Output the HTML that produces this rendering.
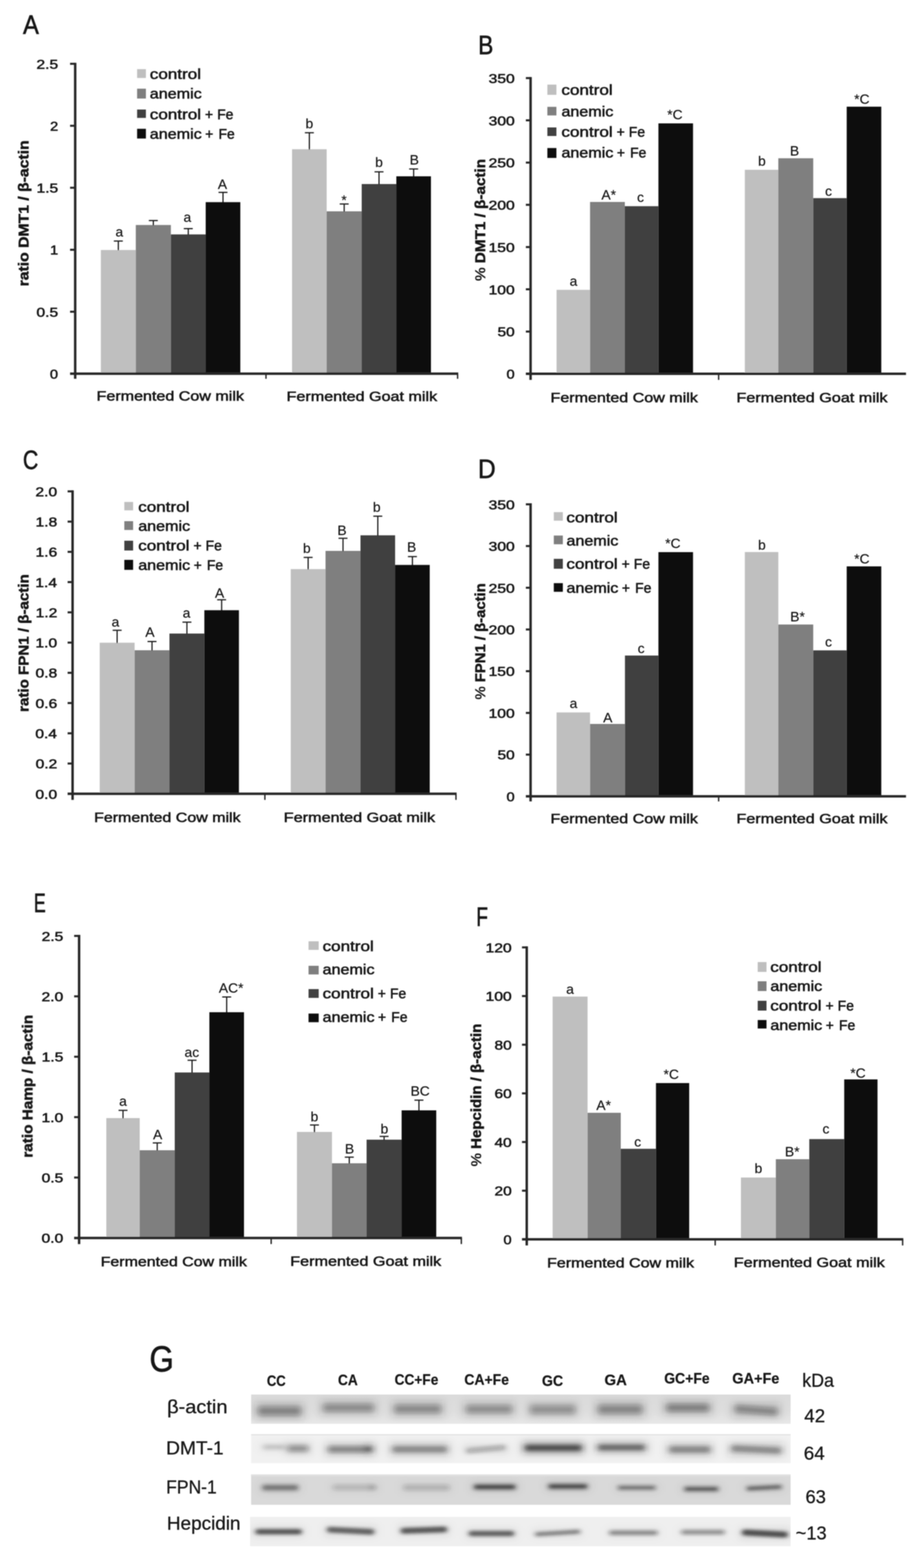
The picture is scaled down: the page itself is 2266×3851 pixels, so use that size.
<!DOCTYPE html>
<html lang="en">
<head>
<meta charset="utf-8">
<title>Figure: DMT1, FPN1 and hepcidin expression</title>
<style>
html,body{margin:0;padding:0;background:#fff;}
body{width:2266px;height:3851px;overflow:hidden;}
svg{display:block;font-family:'Liberation Sans', sans-serif;fill:#141414;}
svg path{fill:none;}
</style>
</head>
<body>
<svg width="2266" height="3851" viewBox="0 0 2266 3851">
<defs>
<filter id="soft" x="-5%" y="-5%" width="110%" height="110%"><feGaussianBlur stdDeviation="0.9"/></filter>
<filter id="bh" x="-5%" y="-100%" width="110%" height="300%"><feGaussianBlur stdDeviation="10 8"/></filter>
<linearGradient id="sg0" x1="0" y1="0" x2="0" y2="1"><stop offset="0" stop-color="#dadada"/><stop offset="0.55" stop-color="#dedede"/><stop offset="1" stop-color="#e7e7e7"/></linearGradient>
<filter id="bc0" x="-5%" y="-150%" width="110%" height="400%"><feGaussianBlur stdDeviation="7 6.5"/></filter>
<filter id="bc1" x="-5%" y="-150%" width="110%" height="400%"><feGaussianBlur stdDeviation="7 5.5"/></filter>
<filter id="bc2" x="-5%" y="-150%" width="110%" height="400%"><feGaussianBlur stdDeviation="6 4.2"/></filter>
<filter id="bc3" x="-5%" y="-150%" width="110%" height="400%"><feGaussianBlur stdDeviation="6 3.8"/></filter>
</defs>
<rect width="2266" height="3851" fill="#fff"/>
<g filter="url(#soft)">
<!-- panel A -->
<g>
<text x="56.6" y="83.4" font-size="64" stroke="#141414" stroke-width="1.3" textLength="38.9" lengthAdjust="spacingAndGlyphs">A</text>
<rect x="247.6" y="614" width="85.8" height="303.8" fill="#bfbfbf"/>
<rect x="333.4" y="552.6" width="86.1" height="365.2" fill="#7f7f7f"/>
<rect x="419.5" y="575.7" width="85.5" height="342.1" fill="#404040"/>
<rect x="505" y="496.5" width="85" height="421.3" fill="#0d0d0d"/>
<path d="M290.5 592L290.5 615" stroke="#141414" stroke-width="2.8"/>
<path d="M279.5 592L301.5 592" stroke="#141414" stroke-width="2.8"/>
<path d="M376.4 541.7L376.4 553.6" stroke="#141414" stroke-width="2.8"/>
<path d="M365.4 541.7L387.4 541.7" stroke="#141414" stroke-width="2.8"/>
<path d="M462.2 561.5L462.2 576.7" stroke="#141414" stroke-width="2.8"/>
<path d="M451.2 561.5L473.2 561.5" stroke="#141414" stroke-width="2.8"/>
<path d="M547.5 472.5L547.5 497.5" stroke="#141414" stroke-width="2.8"/>
<path d="M536.5 472.5L558.5 472.5" stroke="#141414" stroke-width="2.8"/>
<text x="293" y="581" font-size="34" stroke="#141414" stroke-width="0.3" text-anchor="middle">a</text>
<text x="460" y="544.5" font-size="34" stroke="#141414" stroke-width="0.3" text-anchor="middle">a</text>
<text x="546" y="464" font-size="34" stroke="#141414" stroke-width="0.3" text-anchor="middle">A</text>
<rect x="717" y="366.5" width="85" height="551.3" fill="#bfbfbf"/>
<rect x="802" y="519" width="86" height="398.8" fill="#7f7f7f"/>
<rect x="888" y="452" width="85" height="465.8" fill="#404040"/>
<rect x="973" y="433" width="85" height="484.8" fill="#0d0d0d"/>
<path d="M759.5 326L759.5 367.5" stroke="#141414" stroke-width="2.8"/>
<path d="M748.5 326L770.5 326" stroke="#141414" stroke-width="2.8"/>
<path d="M845 501L845 520" stroke="#141414" stroke-width="2.8"/>
<path d="M834 501L856 501" stroke="#141414" stroke-width="2.8"/>
<path d="M930.5 422L930.5 453" stroke="#141414" stroke-width="2.8"/>
<path d="M919.5 422L941.5 422" stroke="#141414" stroke-width="2.8"/>
<path d="M1015.5 415L1015.5 434" stroke="#141414" stroke-width="2.8"/>
<path d="M1004.5 415L1026.5 415" stroke="#141414" stroke-width="2.8"/>
<text x="759.5" y="315" font-size="34" stroke="#141414" stroke-width="0.3" text-anchor="middle">b</text>
<text x="844.5" y="502.5" font-size="34" stroke="#141414" stroke-width="0.3" text-anchor="middle">*</text>
<text x="930.5" y="410" font-size="34" stroke="#141414" stroke-width="0.3" text-anchor="middle">b</text>
<text x="1017" y="404" font-size="34" stroke="#141414" stroke-width="0.3" text-anchor="middle">B</text>
<path d="M184.6 154.2L184.6 930.3" stroke="#262626" stroke-width="6"/>
<path d="M172 917.8L1125 917.8" stroke="#262626" stroke-width="6"/>
<text x="122.5" y="929.8" font-size="31.5" stroke="#141414" stroke-width="1.1" textLength="20" lengthAdjust="spacingAndGlyphs">0</text>
<path d="M172 765.6L184.6 765.6" stroke="#262626" stroke-width="5"/>
<text x="89.6" y="777.6" font-size="31.5" stroke="#141414" stroke-width="1.1" textLength="53.1" lengthAdjust="spacingAndGlyphs">0.5</text>
<path d="M172 613.4L184.6 613.4" stroke="#262626" stroke-width="5"/>
<text x="123.1" y="625.4" font-size="31.5" stroke="#141414" stroke-width="1.1" textLength="19.8" lengthAdjust="spacingAndGlyphs">1</text>
<path d="M172 461.1L184.6 461.1" stroke="#262626" stroke-width="5"/>
<text x="89.7" y="473.1" font-size="31.5" stroke="#141414" stroke-width="1.1" textLength="53.1" lengthAdjust="spacingAndGlyphs">1.5</text>
<path d="M172 308.9L184.6 308.9" stroke="#262626" stroke-width="5"/>
<text x="123" y="320.9" font-size="31.5" stroke="#141414" stroke-width="1.1" textLength="19.9" lengthAdjust="spacingAndGlyphs">2</text>
<path d="M172 156.7L184.6 156.7" stroke="#262626" stroke-width="5"/>
<text x="89.6" y="168.7" font-size="31.5" stroke="#141414" stroke-width="1.1" textLength="53.1" lengthAdjust="spacingAndGlyphs">2.5</text>
<path d="M653 917.8L653 930.3" stroke="#262626" stroke-width="3.4"/>
<path d="M1123.4 917.8L1123.4 930.3" stroke="#262626" stroke-width="3.4"/>
<rect x="336.6" y="169.8" width="21.6" height="21.7" fill="#bfbfbf"/>
<text y="194.1" font-size="34.5" stroke="#141414" stroke-width="1.1" xml:space="preserve"><tspan x="367.7" textLength="125.8" lengthAdjust="spacingAndGlyphs">control</tspan></text>
<rect x="336.6" y="217.8" width="21.6" height="24.2" fill="#7f7f7f"/>
<text y="242" font-size="34.5" stroke="#141414" stroke-width="1.1" xml:space="preserve"><tspan x="367.8" textLength="127.4" lengthAdjust="spacingAndGlyphs">anemic</tspan></text>
<rect x="336.6" y="269" width="21.6" height="20.6" fill="#404040"/>
<text y="292.6" font-size="34.5" stroke="#141414" stroke-width="1.1" xml:space="preserve"><tspan x="367.7" textLength="137.5" lengthAdjust="spacingAndGlyphs">control </tspan><tspan x="503.3" textLength="29.3" lengthAdjust="spacingAndGlyphs">+ </tspan><tspan x="533.2" textLength="39.8" lengthAdjust="spacingAndGlyphs">Fe</tspan></text>
<rect x="336.6" y="316.3" width="21.6" height="23.9" fill="#0d0d0d"/>
<text y="340.6" font-size="34.5" stroke="#141414" stroke-width="1.1" xml:space="preserve"><tspan x="367.8" textLength="138.4" lengthAdjust="spacingAndGlyphs">anemic </tspan><tspan x="503.8" textLength="29.3" lengthAdjust="spacingAndGlyphs">+ </tspan><tspan x="536.4" textLength="39.8" lengthAdjust="spacingAndGlyphs">Fe</tspan></text>
<text x="237.1" y="984" font-size="33.5" stroke="#141414" stroke-width="1.1" textLength="361.8" lengthAdjust="spacingAndGlyphs">Fermented Cow milk</text>
<text x="703.6" y="984.6" font-size="33.5" stroke="#141414" stroke-width="1.1" textLength="369.6" lengthAdjust="spacingAndGlyphs">Fermented Goat milk</text>
<text transform="translate(69.8 703.3) rotate(-90)" font-size="35.5" stroke="#141414" stroke-width="1" textLength="358.6" lengthAdjust="spacingAndGlyphs" xml:space="preserve"><tspan font-weight="bold">ratio DMT1 / β-actin</tspan></text>
</g>
<!-- panel B -->
<g>
<text x="1173.9" y="133.4" font-size="64" stroke="#141414" stroke-width="1.3" textLength="37.1" lengthAdjust="spacingAndGlyphs">B</text>
<rect x="1366.4" y="711.8" width="82.2" height="206.2" fill="#bfbfbf"/>
<rect x="1448.6" y="496" width="85.4" height="422" fill="#7f7f7f"/>
<rect x="1534" y="506.4" width="82.5" height="411.6" fill="#404040"/>
<rect x="1616.5" y="303" width="84.9" height="615" fill="#0d0d0d"/>
<text x="1408" y="701.7" font-size="34" stroke="#141414" stroke-width="0.3" text-anchor="middle">a</text>
<text x="1494.5" y="490" font-size="34" stroke="#141414" stroke-width="0.3" text-anchor="middle">A*</text>
<text x="1572.5" y="496" font-size="34" stroke="#141414" stroke-width="0.3" text-anchor="middle">c</text>
<text x="1657" y="292.7" font-size="34" stroke="#141414" stroke-width="0.3" text-anchor="middle">*C</text>
<rect x="1828.6" y="417" width="82.2" height="501" fill="#bfbfbf"/>
<rect x="1910.8" y="388.7" width="85.7" height="529.3" fill="#7f7f7f"/>
<rect x="1996.5" y="486.6" width="82.2" height="431.4" fill="#404040"/>
<rect x="2078.7" y="262" width="84.9" height="656" fill="#0d0d0d"/>
<text x="1870.5" y="407" font-size="34" stroke="#141414" stroke-width="0.3" text-anchor="middle">b</text>
<text x="1950.5" y="382" font-size="34" stroke="#141414" stroke-width="0.3" text-anchor="middle">B</text>
<text x="2034" y="481" font-size="34" stroke="#141414" stroke-width="0.3" text-anchor="middle">c</text>
<text x="2116" y="255" font-size="34" stroke="#141414" stroke-width="0.3" text-anchor="middle">*C</text>
<path d="M1302.6 189.3L1302.6 933" stroke="#262626" stroke-width="6"/>
<path d="M1291 918L2224.3 918" stroke="#262626" stroke-width="6"/>
<text x="1243.5" y="930" font-size="31.5" stroke="#141414" stroke-width="1.1" textLength="20" lengthAdjust="spacingAndGlyphs">0</text>
<path d="M1291 814.3L1302.6 814.3" stroke="#262626" stroke-width="5"/>
<text x="1221.5" y="826.3" font-size="31.5" stroke="#141414" stroke-width="1.1" textLength="42.1" lengthAdjust="spacingAndGlyphs">50</text>
<path d="M1291 710.5L1302.6 710.5" stroke="#262626" stroke-width="5"/>
<text x="1199.5" y="722.5" font-size="31.5" stroke="#141414" stroke-width="1.1" textLength="64.1" lengthAdjust="spacingAndGlyphs">100</text>
<path d="M1291 606.8L1302.6 606.8" stroke="#262626" stroke-width="5"/>
<text x="1199.5" y="618.8" font-size="31.5" stroke="#141414" stroke-width="1.1" textLength="64.1" lengthAdjust="spacingAndGlyphs">150</text>
<path d="M1291 503L1302.6 503" stroke="#262626" stroke-width="5"/>
<text x="1199.5" y="515" font-size="31.5" stroke="#141414" stroke-width="1.1" textLength="64.2" lengthAdjust="spacingAndGlyphs">200</text>
<path d="M1291 399.3L1302.6 399.3" stroke="#262626" stroke-width="5"/>
<text x="1199.5" y="411.3" font-size="31.5" stroke="#141414" stroke-width="1.1" textLength="64.2" lengthAdjust="spacingAndGlyphs">250</text>
<path d="M1291 295.5L1302.6 295.5" stroke="#262626" stroke-width="5"/>
<text x="1199.5" y="307.5" font-size="31.5" stroke="#141414" stroke-width="1.1" textLength="64.2" lengthAdjust="spacingAndGlyphs">300</text>
<path d="M1291 191.8L1302.6 191.8" stroke="#262626" stroke-width="5"/>
<text x="1199.5" y="203.8" font-size="31.5" stroke="#141414" stroke-width="1.1" textLength="64.2" lengthAdjust="spacingAndGlyphs">350</text>
<path d="M1764.3 918L1764.3 933" stroke="#262626" stroke-width="3.4"/>
<rect x="1343.8" y="207.8" width="22.2" height="25.1" fill="#bfbfbf"/>
<text y="232.9" font-size="34.5" stroke="#141414" stroke-width="1.1" xml:space="preserve"><tspan x="1378.3" textLength="125.8" lengthAdjust="spacingAndGlyphs">control</tspan></text>
<rect x="1343.8" y="262.4" width="22.2" height="21.1" fill="#7f7f7f"/>
<text y="286" font-size="34.5" stroke="#141414" stroke-width="1.1" xml:space="preserve"><tspan x="1378.4" textLength="127.4" lengthAdjust="spacingAndGlyphs">anemic</tspan></text>
<rect x="1343.8" y="313" width="22.2" height="21" fill="#404040"/>
<text y="336" font-size="34.5" stroke="#141414" stroke-width="1.1" xml:space="preserve"><tspan x="1378.3" textLength="137.5" lengthAdjust="spacingAndGlyphs">control </tspan><tspan x="1513.9" textLength="29.3" lengthAdjust="spacingAndGlyphs">+ </tspan><tspan x="1543.8" textLength="39.8" lengthAdjust="spacingAndGlyphs">Fe</tspan></text>
<rect x="1343.8" y="363.6" width="22.2" height="24.3" fill="#0d0d0d"/>
<text y="387.2" font-size="34.5" stroke="#141414" stroke-width="1.1" xml:space="preserve"><tspan x="1378.4" textLength="138.4" lengthAdjust="spacingAndGlyphs">anemic </tspan><tspan x="1514.4" textLength="29.3" lengthAdjust="spacingAndGlyphs">+ </tspan><tspan x="1547" textLength="39.8" lengthAdjust="spacingAndGlyphs">Fe</tspan></text>
<text x="1351.6" y="988" font-size="33.5" stroke="#141414" stroke-width="1.1" textLength="361.6" lengthAdjust="spacingAndGlyphs">Fermented Cow milk</text>
<text x="1808" y="988" font-size="33.5" stroke="#141414" stroke-width="1.1" textLength="371" lengthAdjust="spacingAndGlyphs">Fermented Goat milk</text>
<text transform="translate(1190.6 690.1) rotate(-90)" font-size="35.5" stroke="#141414" stroke-width="1" textLength="299.7" lengthAdjust="spacingAndGlyphs" xml:space="preserve"><tspan font-weight="normal">% </tspan><tspan font-weight="bold">DMT1 / β-actin</tspan></text>
</g>
<!-- panel C -->
<g>
<text x="56.2" y="1151.5" font-size="64" stroke="#141414" stroke-width="1.3" textLength="37.8" lengthAdjust="spacingAndGlyphs">C</text>
<rect x="244.8" y="1578.5" width="85.7" height="371" fill="#bfbfbf"/>
<rect x="330.5" y="1597" width="85.5" height="352.5" fill="#7f7f7f"/>
<rect x="416" y="1556" width="85.7" height="393.5" fill="#404040"/>
<rect x="501.7" y="1498.7" width="84.9" height="450.8" fill="#0d0d0d"/>
<path d="M287.6 1548L287.6 1579.5" stroke="#141414" stroke-width="2.8"/>
<path d="M276.6 1548L298.6 1548" stroke="#141414" stroke-width="2.8"/>
<path d="M373.2 1575.6L373.2 1598" stroke="#141414" stroke-width="2.8"/>
<path d="M362.2 1575.6L384.2 1575.6" stroke="#141414" stroke-width="2.8"/>
<path d="M458.9 1528L458.9 1557" stroke="#141414" stroke-width="2.8"/>
<path d="M447.9 1528L469.9 1528" stroke="#141414" stroke-width="2.8"/>
<path d="M544.1 1473L544.1 1499.7" stroke="#141414" stroke-width="2.8"/>
<path d="M533.1 1473L555.1 1473" stroke="#141414" stroke-width="2.8"/>
<text x="283.5" y="1539" font-size="34" stroke="#141414" stroke-width="0.3" text-anchor="middle">a</text>
<text x="368" y="1564" font-size="34" stroke="#141414" stroke-width="0.3" text-anchor="middle">A</text>
<text x="458" y="1517" font-size="34" stroke="#141414" stroke-width="0.3" text-anchor="middle">a</text>
<text x="539" y="1468" font-size="34" stroke="#141414" stroke-width="0.3" text-anchor="middle">A</text>
<rect x="713.8" y="1397.7" width="85.4" height="551.8" fill="#bfbfbf"/>
<rect x="799.2" y="1353" width="85.8" height="596.5" fill="#7f7f7f"/>
<rect x="885" y="1314.7" width="85" height="634.8" fill="#404040"/>
<rect x="970" y="1387.5" width="85" height="562" fill="#0d0d0d"/>
<path d="M756.5 1369L756.5 1398.7" stroke="#141414" stroke-width="2.8"/>
<path d="M745.5 1369L767.5 1369" stroke="#141414" stroke-width="2.8"/>
<path d="M842.1 1322L842.1 1354" stroke="#141414" stroke-width="2.8"/>
<path d="M831.1 1322L853.1 1322" stroke="#141414" stroke-width="2.8"/>
<path d="M927.5 1267.8L927.5 1315.7" stroke="#141414" stroke-width="2.8"/>
<path d="M916.5 1267.8L938.5 1267.8" stroke="#141414" stroke-width="2.8"/>
<path d="M1012.5 1367L1012.5 1388.5" stroke="#141414" stroke-width="2.8"/>
<path d="M1001.5 1367L1023.5 1367" stroke="#141414" stroke-width="2.8"/>
<text x="753.3" y="1358" font-size="34" stroke="#141414" stroke-width="0.3" text-anchor="middle">b</text>
<text x="839.5" y="1313.5" font-size="34" stroke="#141414" stroke-width="0.3" text-anchor="middle">B</text>
<text x="925" y="1257" font-size="34" stroke="#141414" stroke-width="0.3" text-anchor="middle">b</text>
<text x="1010.5" y="1354.8" font-size="34" stroke="#141414" stroke-width="0.3" text-anchor="middle">B</text>
<path d="M178.2 1204.3L178.2 1964.5" stroke="#262626" stroke-width="6"/>
<path d="M166 1949.5L1121 1949.5" stroke="#262626" stroke-width="6"/>
<text x="87.1" y="1961.5" font-size="31.5" stroke="#141414" stroke-width="1.1" textLength="53.2" lengthAdjust="spacingAndGlyphs">0.0</text>
<path d="M166 1875.2L178.2 1875.2" stroke="#262626" stroke-width="5"/>
<text x="87.5" y="1887.2" font-size="31.5" stroke="#141414" stroke-width="1.1" textLength="53.1" lengthAdjust="spacingAndGlyphs">0.2</text>
<path d="M166 1801L178.2 1801" stroke="#262626" stroke-width="5"/>
<text x="86.7" y="1813" font-size="31.5" stroke="#141414" stroke-width="1.1" textLength="53.2" lengthAdjust="spacingAndGlyphs">0.4</text>
<path d="M166 1726.7L178.2 1726.7" stroke="#262626" stroke-width="5"/>
<text x="87.3" y="1738.7" font-size="31.5" stroke="#141414" stroke-width="1.1" textLength="53.1" lengthAdjust="spacingAndGlyphs">0.6</text>
<path d="M166 1652.4L178.2 1652.4" stroke="#262626" stroke-width="5"/>
<text x="87.3" y="1664.4" font-size="31.5" stroke="#141414" stroke-width="1.1" textLength="53.1" lengthAdjust="spacingAndGlyphs">0.8</text>
<path d="M166 1578.2L178.2 1578.2" stroke="#262626" stroke-width="5"/>
<text x="87.1" y="1590.2" font-size="31.5" stroke="#141414" stroke-width="1.1" textLength="53.1" lengthAdjust="spacingAndGlyphs">1.0</text>
<path d="M166 1503.9L178.2 1503.9" stroke="#262626" stroke-width="5"/>
<text x="87.6" y="1515.9" font-size="31.5" stroke="#141414" stroke-width="1.1" textLength="53.1" lengthAdjust="spacingAndGlyphs">1.2</text>
<path d="M166 1429.6L178.2 1429.6" stroke="#262626" stroke-width="5"/>
<text x="86.8" y="1441.6" font-size="31.5" stroke="#141414" stroke-width="1.1" textLength="53.1" lengthAdjust="spacingAndGlyphs">1.4</text>
<path d="M166 1355.3L178.2 1355.3" stroke="#262626" stroke-width="5"/>
<text x="87.3" y="1367.3" font-size="31.5" stroke="#141414" stroke-width="1.1" textLength="53.1" lengthAdjust="spacingAndGlyphs">1.6</text>
<path d="M166 1281.1L178.2 1281.1" stroke="#262626" stroke-width="5"/>
<text x="87.3" y="1293.1" font-size="31.5" stroke="#141414" stroke-width="1.1" textLength="53.1" lengthAdjust="spacingAndGlyphs">1.8</text>
<path d="M166 1206.8L178.2 1206.8" stroke="#262626" stroke-width="5"/>
<text x="87.1" y="1218.8" font-size="31.5" stroke="#141414" stroke-width="1.1" textLength="53.1" lengthAdjust="spacingAndGlyphs">2.0</text>
<path d="M650.3 1949.5L650.3 1964.5" stroke="#262626" stroke-width="3.4"/>
<path d="M1119.4 1949.5L1119.4 1964.5" stroke="#262626" stroke-width="3.4"/>
<rect x="305.2" y="1232.8" width="21.6" height="20.6" fill="#bfbfbf"/>
<text y="1257" font-size="34.5" stroke="#141414" stroke-width="1.1" xml:space="preserve"><tspan x="339.3" textLength="125.8" lengthAdjust="spacingAndGlyphs">control</tspan></text>
<rect x="305.2" y="1280" width="21.6" height="21.6" fill="#7f7f7f"/>
<text y="1304" font-size="34.5" stroke="#141414" stroke-width="1.1" xml:space="preserve"><tspan x="339.4" textLength="127.4" lengthAdjust="spacingAndGlyphs">anemic</tspan></text>
<rect x="305.2" y="1328" width="21.6" height="24" fill="#404040"/>
<text y="1352" font-size="34.5" stroke="#141414" stroke-width="1.1" xml:space="preserve"><tspan x="339.3" textLength="137.5" lengthAdjust="spacingAndGlyphs">control </tspan><tspan x="474.9" textLength="29.3" lengthAdjust="spacingAndGlyphs">+ </tspan><tspan x="504.8" textLength="39.8" lengthAdjust="spacingAndGlyphs">Fe</tspan></text>
<rect x="305.2" y="1375" width="21.6" height="24.5" fill="#0d0d0d"/>
<text y="1399.5" font-size="34.5" stroke="#141414" stroke-width="1.1" xml:space="preserve"><tspan x="339.4" textLength="138.4" lengthAdjust="spacingAndGlyphs">anemic </tspan><tspan x="475.4" textLength="29.3" lengthAdjust="spacingAndGlyphs">+ </tspan><tspan x="508" textLength="39.8" lengthAdjust="spacingAndGlyphs">Fe</tspan></text>
<text x="231" y="2019" font-size="33.5" stroke="#141414" stroke-width="1.1" textLength="359.7" lengthAdjust="spacingAndGlyphs">Fermented Cow milk</text>
<text x="696.6" y="2019" font-size="33.5" stroke="#141414" stroke-width="1.1" textLength="371.6" lengthAdjust="spacingAndGlyphs">Fermented Goat milk</text>
<text transform="translate(69.9 1748.4) rotate(-90)" font-size="35.5" stroke="#141414" stroke-width="1" textLength="338.1" lengthAdjust="spacingAndGlyphs" xml:space="preserve"><tspan font-weight="bold">ratio FPN1 / β-actin</tspan></text>
</g>
<!-- panel D -->
<g>
<text x="1173.5" y="1174" font-size="64" stroke="#141414" stroke-width="1.3" textLength="43.4" lengthAdjust="spacingAndGlyphs">D</text>
<rect x="1366.4" y="1749.7" width="82.2" height="206.1" fill="#bfbfbf"/>
<rect x="1448.6" y="1778" width="85.7" height="177.8" fill="#7f7f7f"/>
<rect x="1534.3" y="1610" width="82.2" height="345.8" fill="#404040"/>
<rect x="1616.5" y="1356" width="84.9" height="599.8" fill="#0d0d0d"/>
<text x="1408" y="1738.8" font-size="34" stroke="#141414" stroke-width="0.3" text-anchor="middle">a</text>
<text x="1492" y="1774" font-size="34" stroke="#141414" stroke-width="0.3" text-anchor="middle">A</text>
<text x="1574" y="1604" font-size="34" stroke="#141414" stroke-width="0.3" text-anchor="middle">c</text>
<text x="1652" y="1345.6" font-size="34" stroke="#141414" stroke-width="0.3" text-anchor="middle">*C</text>
<rect x="1828.6" y="1355.8" width="82.2" height="600" fill="#bfbfbf"/>
<rect x="1910.8" y="1533.8" width="85.7" height="422" fill="#7f7f7f"/>
<rect x="1996.5" y="1597.3" width="82.2" height="358.5" fill="#404040"/>
<rect x="2078.7" y="1391" width="84.9" height="564.8" fill="#0d0d0d"/>
<text x="1870.5" y="1349.7" font-size="34" stroke="#141414" stroke-width="0.3" text-anchor="middle">b</text>
<text x="1958" y="1525.7" font-size="34" stroke="#141414" stroke-width="0.3" text-anchor="middle">B*</text>
<text x="2034" y="1587.6" font-size="34" stroke="#141414" stroke-width="0.3" text-anchor="middle">c</text>
<text x="2116" y="1384" font-size="34" stroke="#141414" stroke-width="0.3" text-anchor="middle">*C</text>
<path d="M1302.6 1236.1L1302.6 1968.3" stroke="#262626" stroke-width="6"/>
<path d="M1291 1955.8L2224.3 1955.8" stroke="#262626" stroke-width="6"/>
<text x="1243.5" y="1967.8" font-size="31.5" stroke="#141414" stroke-width="1.1" textLength="20" lengthAdjust="spacingAndGlyphs">0</text>
<path d="M1291 1853.3L1302.6 1853.3" stroke="#262626" stroke-width="5"/>
<text x="1221.5" y="1865.3" font-size="31.5" stroke="#141414" stroke-width="1.1" textLength="42.1" lengthAdjust="spacingAndGlyphs">50</text>
<path d="M1291 1750.9L1302.6 1750.9" stroke="#262626" stroke-width="5"/>
<text x="1199.5" y="1762.9" font-size="31.5" stroke="#141414" stroke-width="1.1" textLength="64.1" lengthAdjust="spacingAndGlyphs">100</text>
<path d="M1291 1648.4L1302.6 1648.4" stroke="#262626" stroke-width="5"/>
<text x="1199.5" y="1660.4" font-size="31.5" stroke="#141414" stroke-width="1.1" textLength="64.1" lengthAdjust="spacingAndGlyphs">150</text>
<path d="M1291 1546L1302.6 1546" stroke="#262626" stroke-width="5"/>
<text x="1199.5" y="1558" font-size="31.5" stroke="#141414" stroke-width="1.1" textLength="64.2" lengthAdjust="spacingAndGlyphs">200</text>
<path d="M1291 1443.5L1302.6 1443.5" stroke="#262626" stroke-width="5"/>
<text x="1199.5" y="1455.5" font-size="31.5" stroke="#141414" stroke-width="1.1" textLength="64.2" lengthAdjust="spacingAndGlyphs">250</text>
<path d="M1291 1341.1L1302.6 1341.1" stroke="#262626" stroke-width="5"/>
<text x="1199.5" y="1353.1" font-size="31.5" stroke="#141414" stroke-width="1.1" textLength="64.2" lengthAdjust="spacingAndGlyphs">300</text>
<path d="M1291 1238.6L1302.6 1238.6" stroke="#262626" stroke-width="5"/>
<text x="1199.5" y="1250.6" font-size="31.5" stroke="#141414" stroke-width="1.1" textLength="64.2" lengthAdjust="spacingAndGlyphs">350</text>
<path d="M1764.3 1955.8L1764.3 1968.3" stroke="#262626" stroke-width="3.4"/>
<rect x="1359.6" y="1257.8" width="22.2" height="21" fill="#bfbfbf"/>
<text y="1282.5" font-size="34.5" stroke="#141414" stroke-width="1.1" xml:space="preserve"><tspan x="1390.6" textLength="125.8" lengthAdjust="spacingAndGlyphs">control</tspan></text>
<rect x="1359.6" y="1315.3" width="22.2" height="21.4" fill="#7f7f7f"/>
<text y="1339.5" font-size="34.5" stroke="#141414" stroke-width="1.1" xml:space="preserve"><tspan x="1390.7" textLength="127.4" lengthAdjust="spacingAndGlyphs">anemic</tspan></text>
<rect x="1359.6" y="1372.5" width="22.2" height="24.3" fill="#404040"/>
<text y="1396.8" font-size="34.5" stroke="#141414" stroke-width="1.1" xml:space="preserve"><tspan x="1390.6" textLength="137.5" lengthAdjust="spacingAndGlyphs">control </tspan><tspan x="1526.2" textLength="29.3" lengthAdjust="spacingAndGlyphs">+ </tspan><tspan x="1556.1" textLength="39.8" lengthAdjust="spacingAndGlyphs">Fe</tspan></text>
<rect x="1359.6" y="1432.2" width="22.2" height="21.2" fill="#0d0d0d"/>
<text y="1455.5" font-size="34.5" stroke="#141414" stroke-width="1.1" xml:space="preserve"><tspan x="1390.7" textLength="138.4" lengthAdjust="spacingAndGlyphs">anemic </tspan><tspan x="1526.7" textLength="29.3" lengthAdjust="spacingAndGlyphs">+ </tspan><tspan x="1559.3" textLength="39.8" lengthAdjust="spacingAndGlyphs">Fe</tspan></text>
<text x="1351.6" y="2022" font-size="33.5" stroke="#141414" stroke-width="1.1" textLength="361.6" lengthAdjust="spacingAndGlyphs">Fermented Cow milk</text>
<text x="1808" y="2021.6" font-size="33.5" stroke="#141414" stroke-width="1.1" textLength="371" lengthAdjust="spacingAndGlyphs">Fermented Goat milk</text>
<text transform="translate(1190.6 1718) rotate(-90)" font-size="35.5" stroke="#141414" stroke-width="1" textLength="285.5" lengthAdjust="spacingAndGlyphs" xml:space="preserve"><tspan font-weight="normal">% </tspan><tspan font-weight="bold">FPN1 / β-actin</tspan></text>
</g>
<!-- panel E -->
<g>
<text x="83.2" y="2240.2" font-size="64" stroke="#141414" stroke-width="1.3" textLength="29" lengthAdjust="spacingAndGlyphs">E</text>
<rect x="261" y="2746" width="82" height="294.4" fill="#bfbfbf"/>
<rect x="343" y="2825" width="86" height="215.4" fill="#7f7f7f"/>
<rect x="429" y="2634" width="85" height="406.4" fill="#404040"/>
<rect x="514" y="2486" width="85" height="554.4" fill="#0d0d0d"/>
<path d="M302 2727L302 2747" stroke="#141414" stroke-width="2.8"/>
<path d="M291 2727L313 2727" stroke="#141414" stroke-width="2.8"/>
<path d="M386 2807L386 2826" stroke="#141414" stroke-width="2.8"/>
<path d="M375 2807L397 2807" stroke="#141414" stroke-width="2.8"/>
<path d="M471.5 2604L471.5 2635" stroke="#141414" stroke-width="2.8"/>
<path d="M460.5 2604L482.5 2604" stroke="#141414" stroke-width="2.8"/>
<path d="M556.5 2448.6L556.5 2487" stroke="#141414" stroke-width="2.8"/>
<path d="M545.5 2448.6L567.5 2448.6" stroke="#141414" stroke-width="2.8"/>
<text x="302" y="2716" font-size="34" stroke="#141414" stroke-width="0.3" text-anchor="middle">a</text>
<text x="387" y="2797.7" font-size="34" stroke="#141414" stroke-width="0.3" text-anchor="middle">A</text>
<text x="471" y="2596" font-size="34" stroke="#141414" stroke-width="0.3" text-anchor="middle">ac</text>
<text x="567.5" y="2438" font-size="34" stroke="#141414" stroke-width="0.3" text-anchor="middle">AC*</text>
<rect x="729" y="2780" width="86" height="260.4" fill="#bfbfbf"/>
<rect x="815" y="2857" width="85" height="183.4" fill="#7f7f7f"/>
<rect x="900" y="2799" width="86" height="241.4" fill="#404040"/>
<rect x="986" y="2727" width="85" height="313.4" fill="#0d0d0d"/>
<path d="M772 2763L772 2781" stroke="#141414" stroke-width="2.8"/>
<path d="M761 2763L783 2763" stroke="#141414" stroke-width="2.8"/>
<path d="M857.5 2842L857.5 2858" stroke="#141414" stroke-width="2.8"/>
<path d="M846.5 2842L868.5 2842" stroke="#141414" stroke-width="2.8"/>
<path d="M943 2791L943 2800" stroke="#141414" stroke-width="2.8"/>
<path d="M932 2791L954 2791" stroke="#141414" stroke-width="2.8"/>
<path d="M1028.5 2702L1028.5 2728" stroke="#141414" stroke-width="2.8"/>
<path d="M1017.5 2702L1039.5 2702" stroke="#141414" stroke-width="2.8"/>
<text x="772" y="2754" font-size="34" stroke="#141414" stroke-width="0.3" text-anchor="middle">b</text>
<text x="858" y="2833" font-size="34" stroke="#141414" stroke-width="0.3" text-anchor="middle">B</text>
<text x="943.6" y="2784.4" font-size="34" stroke="#141414" stroke-width="0.3" text-anchor="middle">b</text>
<text x="1031.5" y="2691" font-size="34" stroke="#141414" stroke-width="0.3" text-anchor="middle">BC</text>
<path d="M194.2 2296.1L194.2 3055.4" stroke="#262626" stroke-width="6"/>
<path d="M182 3040.4L1134.2 3040.4" stroke="#262626" stroke-width="6"/>
<text x="102.1" y="3052.4" font-size="31.5" stroke="#141414" stroke-width="1.1" textLength="53.2" lengthAdjust="spacingAndGlyphs">0.0</text>
<path d="M182 2892L194.2 2892" stroke="#262626" stroke-width="5"/>
<text x="102.2" y="2904" font-size="31.5" stroke="#141414" stroke-width="1.1" textLength="53.1" lengthAdjust="spacingAndGlyphs">0.5</text>
<path d="M182 2743.7L194.2 2743.7" stroke="#262626" stroke-width="5"/>
<text x="102.1" y="2755.7" font-size="31.5" stroke="#141414" stroke-width="1.1" textLength="53.1" lengthAdjust="spacingAndGlyphs">1.0</text>
<path d="M182 2595.3L194.2 2595.3" stroke="#262626" stroke-width="5"/>
<text x="102.3" y="2607.3" font-size="31.5" stroke="#141414" stroke-width="1.1" textLength="53.1" lengthAdjust="spacingAndGlyphs">1.5</text>
<path d="M182 2447L194.2 2447" stroke="#262626" stroke-width="5"/>
<text x="102.1" y="2459" font-size="31.5" stroke="#141414" stroke-width="1.1" textLength="53.1" lengthAdjust="spacingAndGlyphs">2.0</text>
<path d="M182 2298.6L194.2 2298.6" stroke="#262626" stroke-width="5"/>
<text x="102.2" y="2310.6" font-size="31.5" stroke="#141414" stroke-width="1.1" textLength="53.1" lengthAdjust="spacingAndGlyphs">2.5</text>
<path d="M665.7 3040.4L665.7 3055.4" stroke="#262626" stroke-width="3.4"/>
<path d="M1132.6 3040.4L1132.6 3055.4" stroke="#262626" stroke-width="3.4"/>
<rect x="757.5" y="2311.8" width="24.9" height="21.1" fill="#bfbfbf"/>
<text y="2335.5" font-size="34.5" stroke="#141414" stroke-width="1.1" xml:space="preserve"><tspan x="791.9" textLength="125.8" lengthAdjust="spacingAndGlyphs">control</tspan></text>
<rect x="757.5" y="2372" width="24.9" height="21.2" fill="#7f7f7f"/>
<text y="2392.8" font-size="34.5" stroke="#141414" stroke-width="1.1" xml:space="preserve"><tspan x="792" textLength="127.4" lengthAdjust="spacingAndGlyphs">anemic</tspan></text>
<rect x="757.5" y="2429.2" width="24.9" height="21.6" fill="#404040"/>
<text y="2452.2" font-size="34.5" stroke="#141414" stroke-width="1.1" xml:space="preserve"><tspan x="791.9" textLength="137.5" lengthAdjust="spacingAndGlyphs">control </tspan><tspan x="927.5" textLength="29.3" lengthAdjust="spacingAndGlyphs">+ </tspan><tspan x="957.4" textLength="39.8" lengthAdjust="spacingAndGlyphs">Fe</tspan></text>
<rect x="757.5" y="2489.3" width="24.9" height="21.2" fill="#0d0d0d"/>
<text y="2509.5" font-size="34.5" stroke="#141414" stroke-width="1.1" xml:space="preserve"><tspan x="792" textLength="138.4" lengthAdjust="spacingAndGlyphs">anemic </tspan><tspan x="928" textLength="29.3" lengthAdjust="spacingAndGlyphs">+ </tspan><tspan x="960.6" textLength="39.8" lengthAdjust="spacingAndGlyphs">Fe</tspan></text>
<text x="247.2" y="3110" font-size="33.5" stroke="#141414" stroke-width="1.1" textLength="358.9" lengthAdjust="spacingAndGlyphs">Fermented Cow milk</text>
<text x="712.6" y="3109" font-size="33.5" stroke="#141414" stroke-width="1.1" textLength="370.6" lengthAdjust="spacingAndGlyphs">Fermented Goat milk</text>
<text transform="translate(79.7 2843.2) rotate(-90)" font-size="35.5" stroke="#141414" stroke-width="1" textLength="350.7" lengthAdjust="spacingAndGlyphs" xml:space="preserve"><tspan font-weight="bold">ratio Hamp / β-actin</tspan></text>
</g>
<!-- panel F -->
<g>
<text x="1169.3" y="2274" font-size="64" stroke="#141414" stroke-width="1.3" textLength="28.7" lengthAdjust="spacingAndGlyphs">F</text>
<rect x="1356.7" y="2447.6" width="85.8" height="596.2" fill="#bfbfbf"/>
<rect x="1442.5" y="2733" width="81.5" height="310.8" fill="#7f7f7f"/>
<rect x="1524" y="2821.4" width="86.4" height="222.4" fill="#404040"/>
<rect x="1610.4" y="2660" width="81.6" height="383.8" fill="#0d0d0d"/>
<text x="1399.5" y="2440.7" font-size="34" stroke="#141414" stroke-width="0.3" text-anchor="middle">a</text>
<text x="1482" y="2726" font-size="34" stroke="#141414" stroke-width="0.3" text-anchor="middle">A*</text>
<text x="1565.5" y="2816" font-size="34" stroke="#141414" stroke-width="0.3" text-anchor="middle">c</text>
<text x="1648" y="2650" font-size="34" stroke="#141414" stroke-width="0.3" text-anchor="middle">*C</text>
<rect x="1819" y="2892" width="85.7" height="151.8" fill="#bfbfbf"/>
<rect x="1904.7" y="2847" width="82.1" height="196.8" fill="#7f7f7f"/>
<rect x="1986.8" y="2797.6" width="85.8" height="246.2" fill="#404040"/>
<rect x="2072.6" y="2651" width="81.7" height="392.8" fill="#0d0d0d"/>
<text x="1862" y="2881" font-size="34" stroke="#141414" stroke-width="0.3" text-anchor="middle">b</text>
<text x="1945" y="2839.6" font-size="34" stroke="#141414" stroke-width="0.3" text-anchor="middle">B*</text>
<text x="2027.7" y="2784" font-size="34" stroke="#141414" stroke-width="0.3" text-anchor="middle">c</text>
<text x="2106.4" y="2647" font-size="34" stroke="#141414" stroke-width="0.3" text-anchor="middle">*C</text>
<path d="M1293.2 2324.3L1293.2 3058.8" stroke="#262626" stroke-width="6"/>
<path d="M1281.5 3043.8L2217.6 3043.8" stroke="#262626" stroke-width="6"/>
<text x="1236.1" y="3055.8" font-size="31.5" stroke="#141414" stroke-width="1.1" textLength="20" lengthAdjust="spacingAndGlyphs">0</text>
<path d="M1281.5 2924.3L1293.2 2924.3" stroke="#262626" stroke-width="5"/>
<text x="1214.1" y="2936.3" font-size="31.5" stroke="#141414" stroke-width="1.1" textLength="42.1" lengthAdjust="spacingAndGlyphs">20</text>
<path d="M1281.5 2804.8L1293.2 2804.8" stroke="#262626" stroke-width="5"/>
<text x="1214" y="2816.8" font-size="31.5" stroke="#141414" stroke-width="1.1" textLength="42.2" lengthAdjust="spacingAndGlyphs">40</text>
<path d="M1281.5 2685.3L1293.2 2685.3" stroke="#262626" stroke-width="5"/>
<text x="1214.1" y="2697.3" font-size="31.5" stroke="#141414" stroke-width="1.1" textLength="42.1" lengthAdjust="spacingAndGlyphs">60</text>
<path d="M1281.5 2565.8L1293.2 2565.8" stroke="#262626" stroke-width="5"/>
<text x="1214.1" y="2577.8" font-size="31.5" stroke="#141414" stroke-width="1.1" textLength="42.1" lengthAdjust="spacingAndGlyphs">80</text>
<path d="M1281.5 2446.3L1293.2 2446.3" stroke="#262626" stroke-width="5"/>
<text x="1192.1" y="2458.3" font-size="31.5" stroke="#141414" stroke-width="1.1" textLength="64.1" lengthAdjust="spacingAndGlyphs">100</text>
<path d="M1281.5 2326.8L1293.2 2326.8" stroke="#262626" stroke-width="5"/>
<text x="1192.1" y="2338.8" font-size="31.5" stroke="#141414" stroke-width="1.1" textLength="64.1" lengthAdjust="spacingAndGlyphs">120</text>
<path d="M1755.8 3043.8L1755.8 3058.8" stroke="#262626" stroke-width="3.4"/>
<path d="M2216 3043.8L2216 3058.8" stroke="#262626" stroke-width="3.4"/>
<rect x="1860.2" y="2362.8" width="21.6" height="24.2" fill="#bfbfbf"/>
<text y="2387" font-size="34.5" stroke="#141414" stroke-width="1.1" xml:space="preserve"><tspan x="1891.1" textLength="125.8" lengthAdjust="spacingAndGlyphs">control</tspan></text>
<rect x="1860.2" y="2410" width="21.6" height="24" fill="#7f7f7f"/>
<text y="2434" font-size="34.5" stroke="#141414" stroke-width="1.1" xml:space="preserve"><tspan x="1891.2" textLength="127.4" lengthAdjust="spacingAndGlyphs">anemic</tspan></text>
<rect x="1860.2" y="2457.9" width="21.6" height="24.1" fill="#404040"/>
<text y="2482.2" font-size="34.5" stroke="#141414" stroke-width="1.1" xml:space="preserve"><tspan x="1891.1" textLength="137.5" lengthAdjust="spacingAndGlyphs">control </tspan><tspan x="2026.7" textLength="29.3" lengthAdjust="spacingAndGlyphs">+ </tspan><tspan x="2056.6" textLength="39.8" lengthAdjust="spacingAndGlyphs">Fe</tspan></text>
<rect x="1860.2" y="2505.2" width="21.6" height="20.8" fill="#0d0d0d"/>
<text y="2529.5" font-size="34.5" stroke="#141414" stroke-width="1.1" xml:space="preserve"><tspan x="1891.2" textLength="138.4" lengthAdjust="spacingAndGlyphs">anemic </tspan><tspan x="2027.2" textLength="29.3" lengthAdjust="spacingAndGlyphs">+ </tspan><tspan x="2059.8" textLength="39.8" lengthAdjust="spacingAndGlyphs">Fe</tspan></text>
<text x="1343" y="3112.7" font-size="33.5" stroke="#141414" stroke-width="1.1" textLength="360.9" lengthAdjust="spacingAndGlyphs">Fermented Cow milk</text>
<text x="1801.6" y="3112" font-size="33.5" stroke="#141414" stroke-width="1.1" textLength="370.6" lengthAdjust="spacingAndGlyphs">Fermented Goat milk</text>
<text transform="translate(1181.4 2864.8) rotate(-90)" font-size="35.5" stroke="#141414" stroke-width="1" textLength="350.6" lengthAdjust="spacingAndGlyphs" xml:space="preserve"><tspan font-weight="normal">% </tspan><tspan font-weight="bold">Hepcidin / β-actin</tspan></text>
</g>
<!-- panel G -->
<g>
<text x="367" y="3368.2" font-size="89" stroke="#141414" stroke-width="1.4" textLength="59.7" lengthAdjust="spacingAndGlyphs">G</text>
<text x="655.2" y="3403.7" font-size="37" font-weight="bold" stroke="#141414" stroke-width="0.4" textLength="46.3" lengthAdjust="spacingAndGlyphs">CC</text>
<text x="829.8" y="3401.7" font-size="37" font-weight="bold" stroke="#141414" stroke-width="0.4" textLength="48.6" lengthAdjust="spacingAndGlyphs">CA</text>
<text x="968.7" y="3401" font-size="37" font-weight="bold" stroke="#141414" stroke-width="0.4" textLength="107.4" lengthAdjust="spacingAndGlyphs">CC+Fe</text>
<text x="1140.1" y="3401" font-size="37" font-weight="bold" stroke="#141414" stroke-width="0.4" textLength="109.4" lengthAdjust="spacingAndGlyphs">CA+Fe</text>
<text x="1330.5" y="3403.7" font-size="37" font-weight="bold" stroke="#141414" stroke-width="0.4" textLength="51.9" lengthAdjust="spacingAndGlyphs">GC</text>
<text x="1484" y="3401.7" font-size="37" font-weight="bold" stroke="#141414" stroke-width="0.4" textLength="55" lengthAdjust="spacingAndGlyphs">GA</text>
<text x="1630.7" y="3398" font-size="37" font-weight="bold" stroke="#141414" stroke-width="0.4" textLength="111.5" lengthAdjust="spacingAndGlyphs">GC+Fe</text>
<text x="1797.8" y="3398" font-size="37" font-weight="bold" stroke="#141414" stroke-width="0.4" textLength="115.6" lengthAdjust="spacingAndGlyphs">GA+Fe</text>
<text x="1969.6" y="3406.4" font-size="46.5" stroke="#141414" stroke-width="0.6" textLength="77.8" lengthAdjust="spacingAndGlyphs">kDa</text>
<text x="410.2" y="3471" font-size="46.5" stroke="#141414" stroke-width="0.6" textLength="148.4" lengthAdjust="spacingAndGlyphs">β-actin</text>
<text x="407.7" y="3571.6" font-size="46.5" stroke="#141414" stroke-width="0.6" textLength="141.4" lengthAdjust="spacingAndGlyphs">DMT-1</text>
<text x="408.1" y="3668" font-size="46.5" stroke="#141414" stroke-width="0.6" textLength="123.9" lengthAdjust="spacingAndGlyphs">FPN-1</text>
<text x="409.8" y="3757" font-size="46.5" stroke="#141414" stroke-width="0.6" textLength="180.6" lengthAdjust="spacingAndGlyphs">Hepcidin</text>
<text x="1974.6" y="3492.7" font-size="46.5" stroke="#141414" stroke-width="0.6" textLength="51.1" lengthAdjust="spacingAndGlyphs">42</text>
<text x="1973.3" y="3585" font-size="46.5" stroke="#141414" stroke-width="0.6" textLength="51.5" lengthAdjust="spacingAndGlyphs">64</text>
<text x="1977.4" y="3691.7" font-size="46.5" stroke="#141414" stroke-width="0.6" textLength="50" lengthAdjust="spacingAndGlyphs">63</text>
<text x="1953.6" y="3781" font-size="46.5" stroke="#141414" stroke-width="0.6" textLength="75.7" lengthAdjust="spacingAndGlyphs">~13</text>
<clipPath id="cs0"><rect x="616.5" y="3425" width="1324.5" height="71.8"/></clipPath>
<rect x="616.5" y="3425" width="1324.5" height="71.8" fill="url(#sg0)"/>
<g clip-path="url(#cs0)">
<g filter="url(#bh)">
<rect x="626" y="3444.2" width="120" height="42.5" fill="#1e1e1e" fill-opacity="0.184"/>
<rect x="786" y="3437.9" width="139" height="39.1" fill="#1e1e1e" fill-opacity="0.162"/>
<rect x="961" y="3440.1" width="129" height="40.8" fill="#1e1e1e" fill-opacity="0.166"/>
<rect x="1137" y="3441.4" width="127" height="39.1" fill="#1e1e1e" fill-opacity="0.158"/>
<rect x="1295" y="3442.4" width="123.7" height="39.1" fill="#1e1e1e" fill-opacity="0.144"/>
<rect x="1461" y="3440.2" width="123" height="42.5" fill="#1e1e1e" fill-opacity="0.175"/>
<rect x="1629" y="3438.8" width="119" height="37.4" fill="#1e1e1e" fill-opacity="0.184"/>
<rect x="1797" y="3444.8" width="119" height="37.4" fill="#1e1e1e" fill-opacity="0.175"/>
</g>
<g filter="url(#bc0)">
<rect x="632.3" y="3455.6" width="107.4" height="19.8" rx="9.9" fill="#1e1e1e" fill-opacity="0.386"/>
<rect x="792.3" y="3448.9" width="126.4" height="17.2" rx="8.6" fill="#1e1e1e" fill-opacity="0.364"/>
<rect x="967.3" y="3451.3" width="116.4" height="18.5" rx="9.2" fill="#1e1e1e" fill-opacity="0.360"/>
<rect x="1143.3" y="3452.4" width="114.4" height="17.2" rx="8.6" fill="#1e1e1e" fill-opacity="0.355"/>
<rect x="1301.3" y="3453.4" width="111.1" height="17.2" rx="8.6" fill="#1e1e1e" fill-opacity="0.325"/>
<rect x="1467.3" y="3451.6" width="110.4" height="19.8" rx="9.9" fill="#1e1e1e" fill-opacity="0.368"/>
<rect x="1635.3" y="3449.6" width="106.4" height="15.8" rx="7.9" fill="#1e1e1e" fill-opacity="0.434"/>
<rect x="1803.3" y="3455.6" width="106.4" height="15.8" rx="7.9" fill="#1e1e1e" fill-opacity="0.413" transform="rotate(5 1856.5 3463.5)"/>
</g>
</g>
<clipPath id="cs1"><rect x="616.5" y="3521.8" width="1324.5" height="71.7"/></clipPath>
<rect x="616.5" y="3521.8" width="1324.5" height="71.7" fill="#f1f1f1"/>
<rect x="616.5" y="3523" width="1324.5" height="1.6" fill="#dadada"/>
<g clip-path="url(#cs1)">
<g filter="url(#bh)">
<rect x="640" y="3542.9" width="65" height="22.1" fill="#1e1e1e" fill-opacity="0.056"/>
<rect x="700" y="3542.2" width="63" height="30.6" fill="#1e1e1e" fill-opacity="0.138"/>
<rect x="798" y="3542.5" width="123" height="34" fill="#1e1e1e" fill-opacity="0.165"/>
<rect x="890" y="3544.4" width="32" height="27.2" fill="#1e1e1e" fill-opacity="0.097"/>
<rect x="956" y="3542.5" width="149" height="34" fill="#1e1e1e" fill-opacity="0.169"/>
<rect x="1139" y="3547.9" width="107.6" height="22.1" fill="#1e1e1e" fill-opacity="0.101"/>
<rect x="1281.5" y="3539.8" width="153.5" height="32.3" fill="#1e1e1e" fill-opacity="0.282"/>
<rect x="1461" y="3539.7" width="129" height="30.6" fill="#1e1e1e" fill-opacity="0.220"/>
<rect x="1635.8" y="3543" width="115.2" height="34" fill="#1e1e1e" fill-opacity="0.176"/>
<rect x="1788" y="3543" width="137" height="34" fill="#1e1e1e" fill-opacity="0.169"/>
</g>
<g filter="url(#bc1)">
<rect x="646.3" y="3552.5" width="52.4" height="3" rx="1.5" fill="#1e1e1e" fill-opacity="0.584"/>
<rect x="706.3" y="3551.3" width="50.4" height="12.5" rx="6.2" fill="#1e1e1e" fill-opacity="0.414"/>
<rect x="804.3" y="3551.9" width="110.4" height="15.2" rx="7.6" fill="#1e1e1e" fill-opacity="0.442"/>
<rect x="896.3" y="3553.3" width="19.4" height="9.4" rx="4.7" fill="#1e1e1e" fill-opacity="0.357"/>
<rect x="962.3" y="3551.9" width="136.4" height="15.2" rx="7.6" fill="#1e1e1e" fill-opacity="0.451"/>
<rect x="1145.3" y="3557.5" width="95" height="3" rx="1.5" fill="#1e1e1e" fill-opacity="1.000" transform="rotate(-6 1192.8 3559)"/>
<rect x="1287.8" y="3549" width="140.9" height="13.9" rx="7" fill="#1e1e1e" fill-opacity="0.790"/>
<rect x="1467.3" y="3548.8" width="116.4" height="12.5" rx="6.2" fill="#1e1e1e" fill-opacity="0.659"/>
<rect x="1642.1" y="3552.4" width="102.6" height="15.2" rx="7.6" fill="#1e1e1e" fill-opacity="0.469"/>
<rect x="1794.3" y="3552.4" width="124.4" height="15.2" rx="7.6" fill="#1e1e1e" fill-opacity="0.451" transform="rotate(3 1856.5 3560)"/>
</g>
</g>
<clipPath id="cs2"><rect x="616.5" y="3621.3" width="1324.5" height="74.5"/></clipPath>
<rect x="616.5" y="3621.3" width="1324.5" height="74.5" fill="#d9d9d9"/>
<rect x="616.5" y="3621.3" width="1324.5" height="4" fill="#e1e1e1"/>
<g clip-path="url(#cs2)">
<g filter="url(#bh)">
<rect x="638" y="3640" width="100" height="27.2" fill="#1e1e1e" fill-opacity="0.080"/>
<rect x="811" y="3638.6" width="119" height="28.9" fill="#1e1e1e" fill-opacity="0.027"/>
<rect x="900" y="3640.2" width="26" height="25.5" fill="#1e1e1e" fill-opacity="0.018"/>
<rect x="984" y="3638.2" width="126" height="30.6" fill="#1e1e1e" fill-opacity="0.030"/>
<rect x="1158" y="3639.7" width="113" height="24.6" fill="#1e1e1e" fill-opacity="0.117"/>
<rect x="1340.8" y="3638.3" width="106.8" height="24.6" fill="#1e1e1e" fill-opacity="0.113"/>
<rect x="1511.7" y="3643.2" width="102.8" height="21.2" fill="#1e1e1e" fill-opacity="0.074"/>
<rect x="1674.5" y="3645.5" width="94.5" height="22.9" fill="#1e1e1e" fill-opacity="0.093"/>
<rect x="1828" y="3643.2" width="96" height="21.2" fill="#1e1e1e" fill-opacity="0.088"/>
</g>
<g filter="url(#bc2)">
<rect x="643.4" y="3647.3" width="89.2" height="12.6" rx="6.3" fill="#1e1e1e" fill-opacity="0.524"/>
<rect x="816.4" y="3646.1" width="108.2" height="13.8" rx="6.9" fill="#1e1e1e" fill-opacity="0.168"/>
<rect x="905.4" y="3647.4" width="15.2" height="11.3" rx="5.6" fill="#1e1e1e" fill-opacity="0.125"/>
<rect x="989.4" y="3646" width="115.2" height="15" rx="7.5" fill="#1e1e1e" fill-opacity="0.184"/>
<rect x="1163.4" y="3646.7" width="102.2" height="10.6" rx="5.3" fill="#1e1e1e" fill-opacity="0.842"/>
<rect x="1346.2" y="3645.3" width="96" height="10.6" rx="5.3" fill="#1e1e1e" fill-opacity="0.812"/>
<rect x="1517.1" y="3650" width="92" height="7.6" rx="3.8" fill="#1e1e1e" fill-opacity="0.666"/>
<rect x="1679.9" y="3652.4" width="83.7" height="9.2" rx="4.6" fill="#1e1e1e" fill-opacity="0.732"/>
<rect x="1833.4" y="3650" width="85.2" height="7.6" rx="3.8" fill="#1e1e1e" fill-opacity="0.788" transform="rotate(-3 1876 3653.8)"/>
</g>
</g>
<clipPath id="cs3"><rect x="614" y="3725.4" width="1327" height="72.1"/></clipPath>
<rect x="614" y="3725.4" width="1327" height="72.1" fill="#efefef"/>
<g clip-path="url(#cs3)">
<g filter="url(#bh)">
<rect x="621.5" y="3748.3" width="125" height="27.2" fill="#1e1e1e" fill-opacity="0.082"/>
<rect x="797" y="3745.1" width="127.5" height="28.9" fill="#1e1e1e" fill-opacity="0.078"/>
<rect x="978" y="3743.6" width="125.4" height="28.9" fill="#1e1e1e" fill-opacity="0.082"/>
<rect x="1145" y="3752.7" width="123" height="27.2" fill="#1e1e1e" fill-opacity="0.076"/>
<rect x="1308" y="3753.1" width="122" height="23.8" fill="#1e1e1e" fill-opacity="0.053"/>
<rect x="1490" y="3751.8" width="130" height="25.5" fill="#1e1e1e" fill-opacity="0.049"/>
<rect x="1666.8" y="3750.2" width="117.9" height="25.5" fill="#1e1e1e" fill-opacity="0.045"/>
<rect x="1815.7" y="3751.5" width="124.3" height="29.8" fill="#1e1e1e" fill-opacity="0.089"/>
</g>
<g filter="url(#bc3)">
<rect x="626.9" y="3755.3" width="114.2" height="13.3" rx="6.6" fill="#1e1e1e" fill-opacity="0.695"/>
<rect x="802.4" y="3752.3" width="116.7" height="14.5" rx="7.2" fill="#1e1e1e" fill-opacity="0.640" transform="rotate(3 860.8 3759.5)"/>
<rect x="983.4" y="3750.8" width="114.6" height="14.5" rx="7.2" fill="#1e1e1e" fill-opacity="0.678" transform="rotate(-2 1040.7 3758)"/>
<rect x="1150.4" y="3759.7" width="112.2" height="13.3" rx="6.6" fill="#1e1e1e" fill-opacity="0.647"/>
<rect x="1313.4" y="3759.6" width="111.2" height="10.8" rx="5.4" fill="#1e1e1e" fill-opacity="0.493" transform="rotate(-3.5 1369 3765)"/>
<rect x="1495.4" y="3758.5" width="119.2" height="12" rx="6" fill="#1e1e1e" fill-opacity="0.428"/>
<rect x="1672.2" y="3757" width="107.1" height="12" rx="6" fill="#1e1e1e" fill-opacity="0.398"/>
<rect x="1821.1" y="3758.9" width="113.5" height="15" rx="7.5" fill="#1e1e1e" fill-opacity="0.727" transform="rotate(3 1877.8 3766.4)"/>
</g>
</g>
</g>
</g>
</svg>
</body>
</html>
